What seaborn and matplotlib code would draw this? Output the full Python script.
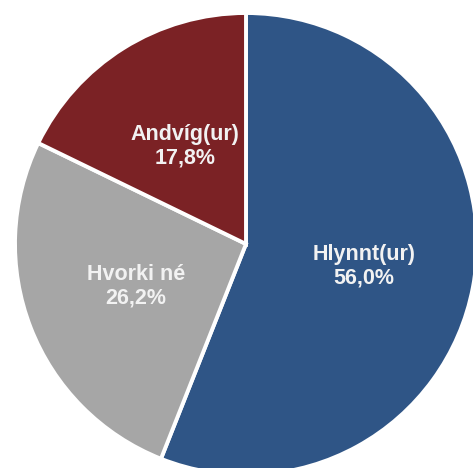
import numpy as np
import matplotlib
matplotlib.use("Agg")
import matplotlib.pyplot as plt
import seaborn as sns

# Data
labels = ["Hlynnt(ur)", "Hvorki né", "Andvíg(ur)"]
shares = [56.0, 26.2, 17.8]
colors = ["#2F5586", "#A6A6A6", "#7B2225"]
label_dist = [0.52, 0.51, 0.50]

sns.set_style("white")
plt.rcParams["font.family"] = ["Liberation Sans", "DejaVu Sans"]

fig = plt.figure(figsize=(4.73, 4.68), dpi=100)
ax = fig.add_axes([0, 0, 1, 1])

wedges, _ = ax.pie(shares, colors=colors, startangle=90, counterclock=False,
                   radius=1, wedgeprops=dict(edgecolor="white", linewidth=2.8))

for w, lab, val, d in zip(wedges, labels, shares, label_dist):
    ang = np.deg2rad((w.theta1 + w.theta2) / 2)
    txt = lab + "\n" + f"{val:.1f}".replace(".", ",") + "%"
    ax.text(d * np.cos(ang), d * np.sin(ang), txt, ha="center", va="center",
            color="#F2F2F2", fontsize=15.5, fontweight="bold", linespacing=1.15)

r = 231.0
ax.set_xlim(-246 / r, (473 - 246) / r)
ax.set_ylim(-224 / r, (468 - 224) / r)
ax.axis("off")

fig.savefig("out.png", dpi=100)
